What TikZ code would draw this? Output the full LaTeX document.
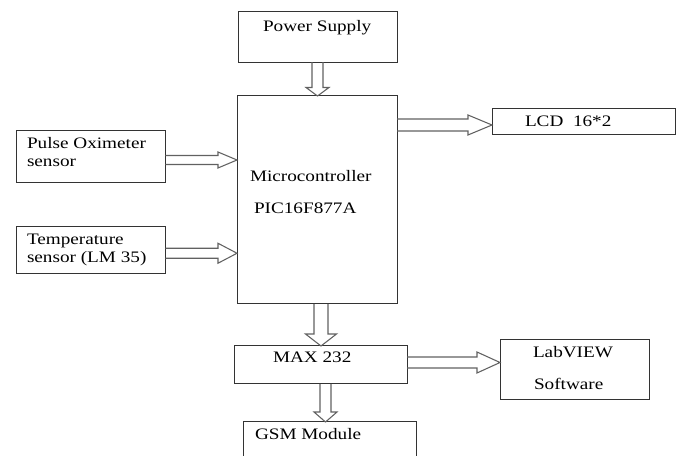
\documentclass[tikz,border=0pt]{standalone}
\usepackage{fontspec}
\setmainfont{Liberation Serif}[FakeStretch=1.2]
\usetikzlibrary{calc}
\newcommand{\harrowblk}[5]{%
  \draw[barrow] let \p1=(#1), \p2=(#2) in
    (\x1,\y1+#3*0.75pt) -- (\x2-#5*0.75pt,\y1+#3*0.75pt) -- (\x2-#5*0.75pt,\y1+#4*0.75pt)
    -- (\x2,\y1) -- (\x2-#5*0.75pt,\y1-#4*0.75pt) -- (\x2-#5*0.75pt,\y1-#3*0.75pt) -- (\x1,\y1-#3*0.75pt);}
\newcommand{\varrowblk}[5]{%
  \draw[barrow] let \p1=(#1), \p2=(#2) in
    (\x1-#3*0.75pt,\y1) -- (\x1-#3*0.75pt,\y2+#5*0.75pt) -- (\x1-#4*0.75pt,\y2+#5*0.75pt)
    -- (\x1,\y2) -- (\x1+#4*0.75pt,\y2+#5*0.75pt) -- (\x1+#3*0.75pt,\y2+#5*0.75pt) -- (\x1+#3*0.75pt,\y1);}
\begin{document}
\begin{tikzpicture}[x=0.75pt,y=-0.75pt,
  box/.style={draw=black!80, line width=0.75pt, inner sep=0pt, outer sep=0pt, fill=none},
  barrow/.style={draw=black!62, line width=0.8pt, line join=miter},
  txt/.style={anchor=base west, inner sep=0pt, outer sep=0pt, text=black,
    font=\fontsize{12pt}{13.5pt}\selectfont, align=left}]
\clip (0,0) rectangle (683,456);
\useasboundingbox (0,0) rectangle (683,456);
% boxes
\node[box, minimum width=119.25pt, minimum height=38pt] (ps) at (317.5,36.75) {};
\node[box, minimum width=120pt, minimum height=156pt] (mcu) at (317,200) {};
\node[box, minimum width=137.25pt, minimum height=19.5pt] (lcd) at (583.5,122) {};
\node[box, minimum width=112.1pt, minimum height=39pt] (pulse) at (90.75,156.5) {};
\node[box, minimum width=112.1pt, minimum height=35.6pt] (temp) at (90.75,250.25) {};
\node[box, minimum width=129.75pt, minimum height=28.5pt] (max) at (320.5,365) {};
\node[box, minimum width=111.75pt, minimum height=45pt] (lab) at (574.5,370) {};
\node[box, minimum width=129.75pt, minimum height=43.5pt] (gsm) at (329.5,451) {};
% texts
\node[txt] (tps) at (263,31.5) {Power Supply};
\node[txt] (tmcu1) at (250,182) {Microcontroller};
\node[txt] (tmcu2) at (254,214) {PIC16F877A};
\node[txt] (tlcd) at (525,127) {LCD\ \ 16*2};
\node[txt] (tpulse) at (27,167) {Pulse Oximeter\\sensor};
\node[txt] (ttemp) at (27,262.7) {Temperature\\sensor (LM 35)};
\node[txt] (tmax) at (273,363) {MAX 232};
\node[txt] (tlab1) at (533,358) {LabVIEW};
\node[txt] (tlab2) at (534,390) {Software};
\node[txt] (tgsm) at (255,439.5) {GSM Module};
% block arrows
\varrowblk{ps.south}{mcu.north}{5.5}{11.5}{8.5}
\harrowblk{$(mcu.east |- lcd.west)+(0,3)$}{lcd.west}{6}{10}{24}
\harrowblk{$(pulse.east)+(0,3.5)$}{mcu.west}{4.5}{8}{19}
\harrowblk{$(temp.east)+(0,3)$}{mcu.west}{5}{10}{19}
\varrowblk{$(mcu.south)+(4,0)$}{max.north}{7}{15.5}{12}
\harrowblk{$(max.east)+(0,-2.5)$}{lab.west}{5.5}{10.5}{23}
\varrowblk{$(max.south)+(5,0)$}{gsm.north}{5.5}{11.5}{10}
\end{tikzpicture}
\end{document}
